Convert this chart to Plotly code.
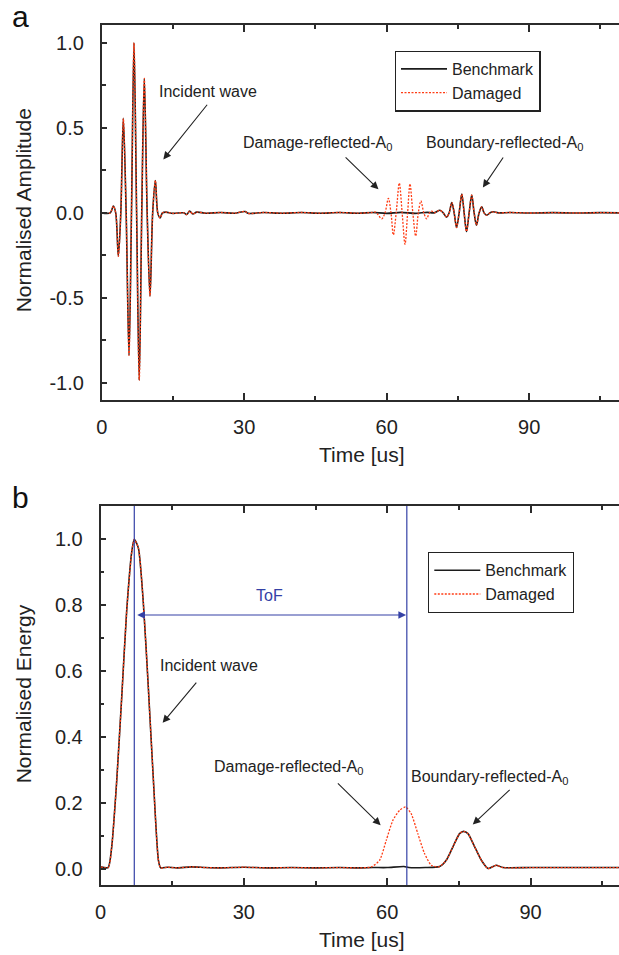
import plotly.graph_objects as go

# ---------------- Data ----------------
# Panel a: normalised amplitude
time_a_bench = [0, 1.8, 2.45, 2.95, 3.5, 4.02, 4.55, 5.15, 5.75, 6.27, 6.8, 7.35, 7.9, 8.43, 8.97,
                9.57, 10.17, 10.73, 11.3, 11.8, 12.3, 12.8, 13.5, 15.0, 17.3, 17.9, 18.5, 19.2, 20.0,
                22.0, 25.0, 28.0, 30.2, 30.8, 34, 38, 42, 46, 50, 54, 57, 60, 63, 66, 68.5, 70.0,
                71.2, 71.9, 72.6, 73.15, 73.7, 74.2, 74.7, 75.25, 75.8, 76.3, 76.8, 77.35, 77.9,
                78.4, 78.9, 79.45, 80.0, 80.5, 81.05, 81.75, 82.45, 83.5, 86, 90, 95, 100, 105, 108.9]
amp_a_bench = [0, 0, 0.04, 0, -0.255, 0, 0.555, 0, -0.837, 0, 1.0, 0, -0.984, 0, 0.79,
               0, -0.49, 0, 0.19, 0, -0.03, 0, 0.004, -0.003, 0.0, -0.01, 0.01, -0.007, 0.004,
               -0.002, 0.002, -0.002, 0.008, -0.003, 0.002, -0.002, 0.002, -0.002, 0.002, -0.002,
               0.002, -0.003, 0.003, -0.003, 0.003, 0,
               0.015, 0, -0.025, 0, 0.06, 0, -0.086, 0, 0.11, 0, -0.11, 0, 0.104,
               0, -0.072, 0, 0.035, 0, -0.014, 0, 0.006, 0, 0.002, -0.001, 0.001, -0.001, 0.001, 0]

time_a_dmg = [0, 1.8, 2.45, 2.95, 3.5, 4.02, 4.55, 5.15, 5.75, 6.27, 6.8, 7.35, 7.9, 8.43, 8.97,
              9.57, 10.17, 10.73, 11.3, 11.8, 12.3, 12.8, 13.5, 15.0, 17.3, 17.9, 18.5, 19.2, 20.0,
              22.0, 25.0, 28.0, 30.2, 30.8, 34, 38, 42, 46, 50, 54, 57, 57.7, 58.95, 59.65, 60.35,
              60.9, 61.4, 62.0, 62.65, 63.25, 63.85, 64.4, 64.9, 65.5, 66.1, 66.65, 67.2, 67.8,
              68.4, 69.0, 69.5, 70.0,
              71.2, 71.9, 72.6, 73.15, 73.7, 74.2, 74.7, 75.25, 75.8, 76.3, 76.8, 77.35, 77.9,
              78.4, 78.9, 79.45, 80.0, 80.5, 81.05, 81.75, 82.45, 83.5, 86, 90, 95, 100, 105, 108.9]
amp_a_dmg = [0, 0, 0.04, 0, -0.255, 0, 0.555, 0, -0.837, 0, 1.0, 0, -0.984, 0, 0.79,
             0, -0.49, 0, 0.19, 0, -0.03, 0, 0.004, -0.003, 0.0, -0.01, 0.01, -0.007, 0.004,
             -0.002, 0.002, -0.002, 0.008, -0.003, 0.002, -0.002, 0.002, -0.002, 0.002, -0.002,
             0.002, 0.004, -0.035, 0, 0.085,
             0, -0.13, 0, 0.175, 0, -0.185, 0, 0.17, 0, -0.137, 0, 0.07, 0,
             -0.035, 0, 0.01, 0,
             0.015, 0, -0.025, 0, 0.06, 0, -0.086, 0, 0.11, 0, -0.11, 0, 0.104,
             0, -0.072, 0, 0.035, 0, -0.014, 0, 0.006, 0, 0.002, -0.001, 0.001, -0.001, 0.001, 0]

# Panel b: normalised energy
time_b_bench = [0, 1.6, 2.35, 3.4, 4.44, 5.49, 6.54, 7.07, 7.93, 8.97, 10.0, 11.07, 12.12, 12.6,
                14, 16, 19, 22, 25, 30, 35, 40, 45, 50, 54, 57, 60, 63.5, 64.5, 68, 70.96,
                72.35, 73.75, 75.14, 75.98, 76.9, 78.3, 79.7, 81.1, 82.8, 84.2, 90, 100, 108.9]
energy_b_bench = [0.005, 0.003, 0.066, 0.268, 0.52, 0.785, 0.962, 1.0, 0.973, 0.805, 0.552, 0.268, 0.025, 0.002,
                  0.004, 0.002, 0.005, 0.003, 0.002, 0.004, 0.002, 0.003, 0.002, 0.003, 0.002, 0.003, 0.003, 0.006, 0.003, 0.003, 0.006,
                  0.025, 0.066, 0.106, 0.113, 0.106, 0.066, 0.025, 0.0, 0.01, 0.003, 0.003, 0.003, 0.003]

time_b_dmg = [0, 1.6, 2.35, 3.4, 4.44, 5.49, 6.54, 7.07, 7.93, 8.97, 10.0, 11.07, 12.12, 12.6,
              14, 16, 19, 22, 25, 30, 35, 40, 45, 50, 54, 56.65, 58.4, 59.8, 61.2, 62.6, 63.84,
              65.0, 66.4, 67.8, 69.2, 70.3, 70.96,
              72.35, 73.75, 75.14, 75.98, 76.9, 78.3, 79.7, 81.1, 82.8, 84.2, 90, 100, 108.9]
energy_b_dmg = [0.005, 0.003, 0.066, 0.268, 0.52, 0.785, 0.962, 1.0, 0.973, 0.805, 0.552, 0.268, 0.025, 0.002,
                0.004, 0.002, 0.005, 0.003, 0.002, 0.004, 0.002, 0.003, 0.002, 0.003, 0.002, 0.005, 0.025, 0.086, 0.147, 0.177, 0.187,
                0.167, 0.106, 0.046, 0.01, 0.005, 0.006,
                0.025, 0.066, 0.106, 0.113, 0.106, 0.066, 0.025, 0.0, 0.01, 0.003, 0.003, 0.003, 0.003]

series_names = ["Benchmark", "Damaged"]
x_tickvals = [0, 30, 60, 90]
x_minor = [15, 45, 75, 105]
ya_tickvals = [-1.0, -0.5, 0.0, 0.5, 1.0]
ya_ticktext = ["-1.0", "-0.5", "0.0", "0.5", "1.0"]
ya_minor = [-0.75, -0.25, 0.25, 0.75]
yb_tickvals = [0.0, 0.2, 0.4, 0.6, 0.8, 1.0]
yb_ticktext = ["0.0", "0.2", "0.4", "0.6", "0.8", "1.0"]
yb_minor = [0.1, 0.3, 0.5, 0.7, 0.9]
tof_start, tof_end = 7.07, 64.1

# ---------------- Styling ----------------
W, H = 619, 955
FONT = "Liberation Sans, Arial, Helvetica, sans-serif"
AX = "#2b2b2b"
BENCH_C = "#1c1c1c"
DMG_C = "#ff3c14"
BLUE = "#3441a6"


def py(p):  # pixel-from-top -> paper y
    return 1 - p / H


def px(p):
    return p / W


fig = go.Figure()
fig.add_trace(go.Scatter(x=time_a_bench, y=amp_a_bench, name=series_names[0], mode="lines",
                         line=dict(color=BENCH_C, width=1.6, shape="spline", smoothing=0.9),
                         xaxis="x", yaxis="y", legend="legend"))
fig.add_trace(go.Scatter(x=time_a_dmg, y=amp_a_dmg, name=series_names[1], mode="lines",
                         line=dict(color=DMG_C, width=1.3, dash="2px,1.5px", shape="spline", smoothing=0.9),
                         xaxis="x", yaxis="y", legend="legend"))
fig.add_trace(go.Scatter(x=time_b_bench, y=energy_b_bench, name=series_names[0], mode="lines",
                         line=dict(color=BENCH_C, width=1.6, shape="spline", smoothing=0.6),
                         xaxis="x2", yaxis="y2", legend="legend2"))
fig.add_trace(go.Scatter(x=time_b_dmg, y=energy_b_dmg, name=series_names[1], mode="lines",
                         line=dict(color=DMG_C, width=1.3, dash="2px,1.5px", shape="spline", smoothing=0.6),
                         xaxis="x2", yaxis="y2", legend="legend2"))

common_x = dict(tickvals=x_tickvals, ticks="inside", ticklen=7, tickwidth=1.5, tickcolor=AX,
                minor=dict(tickvals=x_minor, ticks="inside", ticklen=4, tickwidth=1.5, tickcolor=AX),
                showline=True, linecolor=AX, linewidth=1.6, mirror="ticks", showgrid=False,
                zeroline=False, ticklabelstandoff=8,
                tickfont=dict(family=FONT, size=20, color="#222"))
common_y = dict(ticks="inside", ticklen=5.5, tickwidth=1.5, tickcolor=AX,
                showline=True, linecolor=AX, linewidth=1.6, mirror=False, showgrid=False,
                zeroline=False, ticklabelstandoff=12,
                tickfont=dict(family=FONT, size=20, color="#222"))

legend_common = dict(xanchor="left", yanchor="top", bgcolor="white", bordercolor="#222",
                     borderwidth=1.3, font=dict(family=FONT, size=16, color="#222"),
                     tracegroupgap=0, itemwidth=46)

fig.update_layout(
    width=W, height=H, margin=dict(l=0, r=0, t=0, b=0, autoexpand=False),
    paper_bgcolor="white", plot_bgcolor="white",
    font=dict(family=FONT, color="#222"),
    xaxis=dict(domain=[px(101.7), 1], range=[0, 108.9], anchor="y", **common_x),
    yaxis=dict(domain=[py(400), py(25)], range=[-1.1, 1.104], anchor="x",
               tickvals=ya_tickvals, ticktext=ya_ticktext,
               minor=dict(tickvals=ya_minor, ticks="inside", ticklen=4, tickwidth=1.5, tickcolor=AX),
               **common_y),
    xaxis2=dict(domain=[px(100.5), 1], range=[0, 108.5], anchor="y2", **common_x),
    yaxis2=dict(domain=[py(885), py(506)], range=[-0.05, 1.101], anchor="x2",
                tickvals=yb_tickvals, ticktext=yb_ticktext,
                minor=dict(tickvals=yb_minor, ticks="inside", ticklen=4, tickwidth=1.5, tickcolor=AX),
                **common_y),
    legend=dict(x=px(394.7), y=py(50.7), **legend_common),
    legend2=dict(x=px(428), y=py(552), **legend_common),
    showlegend=True,
)

# vertical ToF marker lines
for xv in (tof_start, tof_end):
    fig.add_shape(type="line", xref="x2", yref="y2 domain", x0=xv, x1=xv, y0=0, y1=1,
                  line=dict(color=BLUE, width=1.2))

ann = []
TXT = dict(family=FONT, size=16, color="#222")
C = dict(xanchor="center", yanchor="middle", showarrow=False)
# panel labels
ann.append(dict(text="a", xref="paper", yref="paper", x=px(20), y=py(16),
                font=dict(family=FONT, size=30, color="#111"), **C))
ann.append(dict(text="b", xref="paper", yref="paper", x=px(20), y=py(498),
                font=dict(family=FONT, size=30, color="#111"), **C))
# axis titles
ann.append(dict(text="Normalised Amplitude", xref="paper", yref="paper", x=px(23.3), y=py(210),
                textangle=-90, font=dict(family=FONT, size=21, color="#222"), **C))
ann.append(dict(text="Normalised Energy", xref="paper", yref="paper", x=px(23.3), y=py(694),
                textangle=-90, font=dict(family=FONT, size=21, color="#222"), **C))
ann.append(dict(text="Time [us]", xref="paper", yref="paper", x=px(362), y=py(454),
                font=dict(family=FONT, size=21, color="#222"), **C))
ann.append(dict(text="Time [us]", xref="paper", yref="paper", x=px(362), y=py(939),
                font=dict(family=FONT, size=21, color="#222"), **C))

# panel a labels + arrows
ann += [
    dict(text="Incident wave", xref="x", yref="y", x=22.45, y=0.716, font=TXT, **C),
    dict(text="Damage-reflected-A<sub>0</sub>", xref="x", yref="y", x=45.35, y=0.405, font=TXT, **C),
    dict(text="Boundary-reflected-A<sub>0</sub>", xref="x", yref="y", x=84.88, y=0.405, font=TXT, **C),
]
arrow_style = dict(text="", showarrow=True, arrowhead=2, arrowsize=1.4, arrowwidth=1.1, arrowcolor="#222")
ann += [
    dict(xref="x", yref="y", axref="x", ayref="y", x=12.97, y=0.314, ax=22.45, ay=0.644, **arrow_style),
    dict(xref="x", yref="y", axref="x", ayref="y", x=58.26, y=0.138, ax=51.03, ay=0.334, **arrow_style),
    dict(xref="x", yref="y", axref="x", ayref="y", x=80.24, y=0.149, ax=84.73, ay=0.334, **arrow_style),
]
# panel b labels + arrows
ann += [
    dict(text="Incident wave", xref="x2", yref="y2", x=22.7, y=0.617, font=TXT, **C),
    dict(text="Damage-reflected-A<sub>0</sub>", xref="x2", yref="y2", x=39.3, y=0.306, font=TXT, **C),
    dict(text="Boundary-reflected-A<sub>0</sub>", xref="x2", yref="y2", x=81.4, y=0.276, font=TXT, **C),
    dict(text="ToF", xref="x2", yref="y2", x=35.4, y=0.83,
         font=dict(family=FONT, size=16, color=BLUE), **C),
]
ann += [
    dict(xref="x2", yref="y2", axref="x2", ayref="y2", x=13.0, y=0.4425, ax=20.31, ay=0.569, **arrow_style),
    dict(xref="x2", yref="y2", axref="x2", ayref="y2", x=58.62, y=0.1316, ax=49.36, ay=0.263, **arrow_style),
    dict(xref="x2", yref="y2", axref="x2", ayref="y2", x=77.9, y=0.1337, ax=85.93, ay=0.243, **arrow_style),
    dict(text="", xref="x2", yref="y2", axref="x2", ayref="y2", x=tof_end - 0.15, y=0.77,
         ax=tof_start + 0.3, ay=0.77, showarrow=True, arrowside="end+start",
         arrowhead=2, startarrowhead=2, arrowsize=1.4, startarrowsize=1.4, arrowwidth=1.1, arrowcolor=BLUE),
]
fig.update_layout(annotations=ann)

fig.write_html("out.html")
